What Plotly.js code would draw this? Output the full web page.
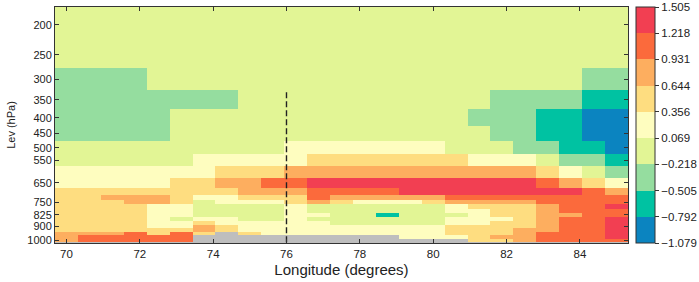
<!DOCTYPE html>
<html>
<head>
<meta charset="utf-8">
<script src="https://cdn.plot.ly/plotly-3.0.1.min.js"></script>
<style>html,body{margin:0;padding:0;background:#fff;}#chart{width:699px;height:282px;}</style>
</head>
<body>
<div id="chart"></div>
<script>
// Longitude cell centres (degrees)
const lons = [70, 70.625, 71.25, 71.875, 72.5, 73.125, 73.75, 74.375, 75, 75.625, 76.25, 76.875, 77.5,
  78.125, 78.75, 79.375, 80, 80.625, 81.25, 81.875, 82.5, 83.125, 83.75, 84.375, 85];
// Pressure levels (hPa), top to bottom
const levels = [200, 250, 300, 350, 400, 450, 500, 550, 600, 650, 700, 725, 750, 775, 800, 825, 850, 875, 900, 925, 950, 975, 1000];
// Colour-bin boundaries
const binEdges = [-1.079, -0.792, -0.505, -0.218, 0.069, 0.356, 0.644, 0.931, 1.218, 1.505];
const binLabels = ["\u22121.079", "\u22120.792", "\u22120.505", "\u22120.218", "0.069", "0.356", "0.644", "0.931", "1.218", "1.505"];
// Representative value of each colour bin
const binValues = [-0.94, -0.65, -0.36, -0.07, 0.21, 0.50, 0.79, 1.07, 1.36];
const binColors = ["#0b84c0", "#00c2a2", "#95dd9f", "#e2f595", "#fefdbf", "#fedd80", "#fdae5f", "#fb6a3c", "#f23f52"];
// Cell bins per level (one char per longitude; G = missing / below ground)
const lev200 = "3333333333333333333333333";
const lev250 = "3333333333333333333333333";
const lev300 = "2222333333333333333333322";
const lev350 = "2222222233333333333222211";
const lev400 = "2222233333333333332221100";
const lev450 = "2222233333333333333221100";
const lev500 = "3333333333444444433322110";
const lev550 = "3333334444455555554443221";
const lev600 = "4444444555666666666665432";
const lev650 = "4444455667788888888887654";
const lev700 = "5555555566677778888888876";
const lev725 = "5566654455576666677777777";
const lev750 = "5556653444565444566667777";
const lev775 = "5555443333433333345556778";
const lev800 = "5555443333433333344556777";
const lev825 = "5555443333443313334556677";
const lev850 = "5555434433433333344456778";
const lev875 = "5555445444443333344556778";
const lev900 = "5555446544444444455556778";
const lev925 = "5555556544444444455566778";
const lev950 = "6667575G54444444455567778";
const lev975 = "677777GGGGGGGGG4445667778";
const lev1000 = "677777GGGGGGGGGGGG5567777";
const rows = [lev200, lev250, lev300, lev350, lev400, lev450, lev500, lev550, lev600, lev650, lev700, lev725,
  lev750, lev775, lev800, lev825, lev850, lev875, lev900, lev925, lev950, lev975, lev1000];
// Dashed marker line
const markerLon = 76;
const markerTopLev = 330;
const plotTopLev = 175;
const plotBottomLev = 1018;

const z = rows.map(r => r.split('').map(c => c === 'G' ? null : binValues[+c]));

// y cell edges: midpoints between levels
const yEdges = [plotTopLev];
for (let i = 0; i < levels.length - 1; i++) yEdges.push((levels[i] + levels[i + 1]) / 2);
yEdges.push(levels[levels.length - 1] + (levels[levels.length - 1] - levels[levels.length - 2]) / 2);

const zmin = binEdges[0], zmax = binEdges[binEdges.length - 1];
const cs = [];
for (let k = 0; k < binColors.length; k++) {
  cs.push([k / binColors.length, binColors[k]]);
  cs.push([(k + 1) / binColors.length, binColors[k]]);
}
const cbTickVals = binEdges.map((v, i) => i === 0 ? v + 1e-6 : (i === binEdges.length - 1 ? v - 1e-6 : v));

const font = "Liberation Sans, Arial, sans-serif";
const heat = {
  type: 'heatmap', x: lons, y: yEdges, z: z, zmin: zmin, zmax: zmax, colorscale: cs,
  zsmooth: false, hoverongaps: false,
  colorbar: {
    x: 1.014, xanchor: 'left', xpad: 0, y: 0.5, yanchor: 'middle', ypad: 0, len: 1, lenmode: 'fraction',
    thickness: 19, outlinewidth: 1, outlinecolor: '#333',
    tickmode: 'array', tickvals: cbTickVals, ticktext: binLabels, ticks: 'outside', ticklen: 4, tickcolor: '#333',
    ticklabeloverflow: 'allow',
    tickfont: {family: font, size: 11.5, color: '#222'}
  }
};
const marker = {
  type: 'scatter', mode: 'lines', x: [markerLon, markerLon], y: [yEdges[yEdges.length - 1], markerTopLev],
  line: {color: '#222', width: 1.4, dash: '6px,3px'}, showlegend: false, hoverinfo: 'skip'
};

const layout = {
  width: 699, height: 282,
  margin: {l: 55, r: 71, t: 7, b: 39, autoexpand: false},
  paper_bgcolor: '#fff', plot_bgcolor: '#bebebe',
  showlegend: false,
  font: {family: font, color: '#222'},
  xaxis: {
    range: [lons[0] - 0.3125, lons[lons.length - 1] + 0.3125],
    tickmode: 'array', tickvals: [70, 72, 74, 76, 78, 80, 82, 84],
    ticks: 'inside', ticklen: 4, tickcolor: '#333', mirror: 'ticks', showline: true, linecolor: '#333', linewidth: 1,
    showgrid: false, zeroline: false, tickfont: {family: font, size: 11.5, color: '#222'},
    title: {text: 'Longitude (degrees)', font: {family: font, size: 15, color: '#222'}, standoff: 5}
  },
  yaxis: {
    type: 'log', range: [Math.log10(plotBottomLev), Math.log10(plotTopLev)],
    tickmode: 'array', tickvals: [200, 250, 300, 350, 400, 450, 500, 550, 650, 750, 825, 900, 1000],
    ticktext: ['200', '250', '300', '350', '400', '450', '500', '550', '650', '750', '825', '900', '1000'],
    ticks: 'inside', ticklen: 4, tickcolor: '#333', mirror: 'ticks', showline: true, linecolor: '#333', linewidth: 1,
    showgrid: false, zeroline: false, tickfont: {family: font, size: 11, color: '#222'},
    title: {text: 'Lev (hPa)', font: {family: font, size: 11, color: '#222'}, standoff: 9}
  }
};
Plotly.newPlot('chart', [heat, marker], layout, {staticPlot: true, displayModeBar: false});
</script>
</body>
</html>
